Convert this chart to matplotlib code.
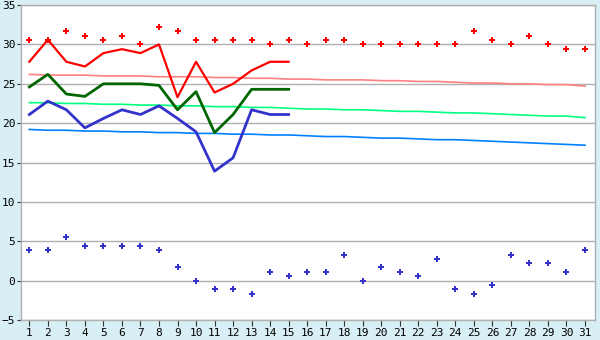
import numpy as np
import matplotlib
matplotlib.use('Agg')
import matplotlib.pyplot as plt

days = list(range(1, 32))

# record highs / lows (points)
record_high = [30.6, 30.6, 31.7, 31.1, 30.6, 31.1, 30.0, 32.2, 31.7, 30.6,
               30.6, 30.6, 30.6, 30.0, 30.6, 30.0, 30.6, 30.6, 30.0, 30.0,
               30.0, 30.0, 30.0, 30.0, 31.7, 30.6, 30.0, 31.1, 30.0, 29.4, 29.4]
record_low = [3.9, 3.9, 5.6, 4.4, 4.4, 4.4, 4.4, 3.9, 1.7, 0.0,
              -1.1, -1.1, -1.7, 1.1, 0.6, 1.1, 1.1, 3.3, 0.0, 1.7,
              1.1, 0.6, 2.8, -1.1, -1.7, -0.6, 3.3, 2.2, 2.2, 1.1, 3.9]

# observed values (first 15 days)
obs_days = days[:15]
obs_high = [27.8, 30.6, 27.8, 27.2, 28.9, 29.4, 28.9, 30.0, 23.3, 27.8,
            23.9, 25.0, 26.7, 27.8, 27.8]
obs_mean = [24.6, 26.2, 23.7, 23.4, 25.0, 25.0, 25.0, 24.8, 21.7, 24.0,
            18.8, 21.1, 24.3, 24.3, 24.3]
obs_low = [21.1, 22.8, 21.7, 19.4, 20.6, 21.7, 21.1, 22.2, 20.6, 18.9,
           13.9, 15.6, 21.7, 21.1, 21.1]

# normals
norm_high = [26.2, 26.1, 26.1, 26.1, 26.0, 26.0, 26.0, 25.9, 25.9, 25.9,
             25.8, 25.8, 25.7, 25.7, 25.6, 25.6, 25.5, 25.5, 25.5, 25.4,
             25.4, 25.3, 25.3, 25.2, 25.1, 25.1, 25.0, 25.0, 24.9, 24.9, 24.7]
norm_mean = [22.6, 22.6, 22.5, 22.5, 22.4, 22.4, 22.3, 22.3, 22.2, 22.2,
             22.1, 22.1, 22.0, 22.0, 21.9, 21.8, 21.8, 21.7, 21.7, 21.6,
             21.5, 21.5, 21.4, 21.3, 21.3, 21.2, 21.1, 21.0, 20.9, 20.9, 20.7]
norm_low = [19.2, 19.1, 19.1, 19.0, 19.0, 18.9, 18.9, 18.8, 18.8, 18.7,
            18.7, 18.6, 18.6, 18.5, 18.5, 18.4, 18.3, 18.3, 18.2, 18.1,
            18.1, 18.0, 17.9, 17.9, 17.8, 17.7, 17.6, 17.5, 17.4, 17.3, 17.2]

bg = '#d8eff6'
fig = plt.figure(figsize=(6, 3.4), dpi=100, facecolor=bg)
ax = fig.add_axes([0.035, 0.059, 0.957, 0.926])
ax.set_facecolor('white')

ax.plot(days, norm_high, color='#ff8080', lw=1.2)
ax.plot(days, norm_mean, color='#00ff80', lw=1.2)
ax.plot(days, norm_low, color='#0080ff', lw=1.2)

ax.plot(obs_days, obs_high, color='#ff0000', lw=1.6)
ax.plot(obs_days, obs_mean, color='#006600', lw=2.0)
ax.plot(obs_days, obs_low, color='#3333cc', lw=2.0)

ax.plot(days, record_high, ls='none', marker='P', ms=4, color='#ff0000',
        markeredgewidth=0)
ax.plot(days, record_low, ls='none', marker='P', ms=4, color='#3333cc',
        markeredgewidth=0)

ax.set_xlim(0.55, 31.55)
ax.set_ylim(-5, 35)
ax.set_yticks(range(-5, 36, 5))
ax.set_xticks(days)
ax.yaxis.grid(True, color='#b0b0b0', lw=1)
ax.set_axisbelow(True)
for s in ax.spines.values():
    s.set_color('#b0b0b0')
    s.set_linewidth(1)
ax.tick_params(axis='x', length=4, color='#333333', labelsize=8, pad=2)
ax.tick_params(axis='y', length=3, color='#333333', labelsize=8, pad=1)
for lab in ax.get_xticklabels() + ax.get_yticklabels():
    lab.set_family('DejaVu Sans Mono')

fig.savefig('out.png', dpi=100, facecolor=bg)
